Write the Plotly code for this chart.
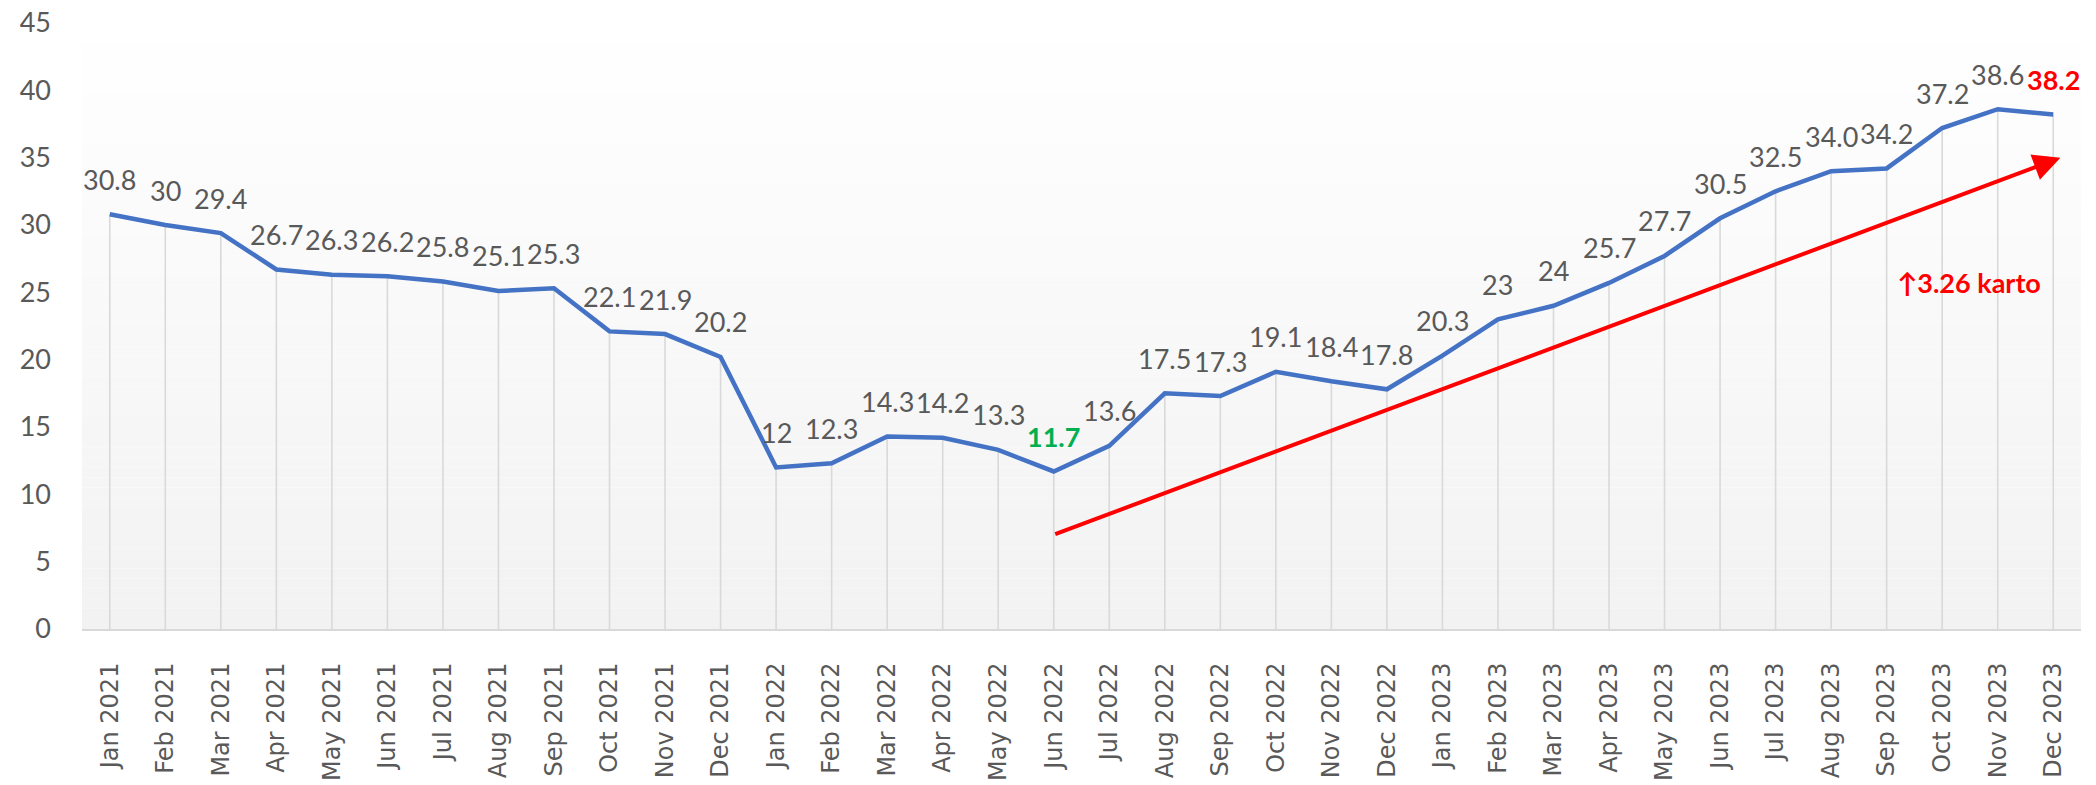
import plotly.graph_objects as go

months = ["Jan 2021", "Feb 2021", "Mar 2021", "Apr 2021", "May 2021", "Jun 2021",
          "Jul 2021", "Aug 2021", "Sep 2021", "Oct 2021", "Nov 2021", "Dec 2021",
          "Jan 2022", "Feb 2022", "Mar 2022", "Apr 2022", "May 2022", "Jun 2022",
          "Jul 2022", "Aug 2022", "Sep 2022", "Oct 2022", "Nov 2022", "Dec 2022",
          "Jan 2023", "Feb 2023", "Mar 2023", "Apr 2023", "May 2023", "Jun 2023",
          "Jul 2023", "Aug 2023", "Sep 2023", "Oct 2023", "Nov 2023", "Dec 2023"]
values = [30.8, 30.0, 29.4, 26.7, 26.3, 26.2, 25.8, 25.1, 25.3, 22.1, 21.9, 20.2,
          12.0, 12.3, 14.3, 14.2, 13.3, 11.7, 13.6, 17.5, 17.3, 19.1, 18.4, 17.8,
          20.3, 23.0, 24.0, 25.7, 27.7, 30.5, 32.5, 34.0, 34.2, 37.2, 38.6, 38.2]
value_labels = ["30.8", "30", "29.4", "26.7", "26.3", "26.2", "25.8", "25.1", "25.3",
                "22.1", "21.9", "20.2", "12", "12.3", "14.3", "14.2", "13.3", "11.7",
                "13.6", "17.5", "17.3", "19.1", "18.4", "17.8", "20.3", "23", "24",
                "25.7", "27.7", "30.5", "32.5", "34.0", "34.2", "37.2", "38.6", "38.2"]
y_ticks = [0, 5, 10, 15, 20, 25, 30, 35, 40, 45]

# trend arrow (start/end in axis units) and its note
trend_start = (17, 7.0)
trend_end = (35.13, 35.0)
trend_note = "↑3.26 karto"
trend_note_pos = (33.49, 25.7)

highlight = {"Jun 2022": "#00B050", "Dec 2023": "#FF0000"}

LABEL_GRAY = "#595959"
LINE_BLUE = "#4472C4"

fig = go.Figure()

# drop lines from each point down to the axis
fig.add_trace(go.Scatter(
    x=months, y=values, mode="markers",
    marker=dict(size=1, color="rgba(0,0,0,0)"),
    error_y=dict(type="data", symmetric=False, array=[0] * len(values),
                 arrayminus=values, color="#D9D9D9", thickness=1.6, width=0),
    hoverinfo="skip", showlegend=False,
))

fig.add_trace(go.Scatter(
    x=months, y=values, mode="lines",
    line=dict(color=LINE_BLUE, width=4.5),
    showlegend=False,
))

annotations = []
for m, v, t in zip(months, values, value_labels):
    color = highlight.get(m, LABEL_GRAY)
    bold = m in highlight
    annotations.append(dict(
        x=m, y=v, xref="x", yref="y", text=f"<b>{t}</b>" if bold else t,
        showarrow=False, yshift=35,
        font=dict(family="Lato", size=27, color=color),
        xanchor="center", yanchor="middle",
    ))

annotations.append(dict(
    x=trend_end[0], y=trend_end[1], ax=trend_start[0], ay=trend_start[1],
    xref="x", yref="y", axref="x", ayref="y", text="",
    showarrow=True, arrowhead=2, arrowsize=1.35, arrowwidth=4, arrowcolor="#FF0000",
    standoff=0, startstandoff=0,
))
annotations.append(dict(
    x=trend_note_pos[0], y=trend_note_pos[1], xref="x", yref="y",
    text=f"<b>{trend_note}</b>", showarrow=False,
    font=dict(family="Lato", size=27, color="#FF0000"),
    xanchor="center", yanchor="middle",
))

# subtle vertical gradient background (white -> light gray)
shapes = []
n_bands = 60
for i in range(n_bands):
    f = (i + 0.5) / n_bands
    c = round(255 - (255 - 242) * f)
    shapes.append(dict(
        type="rect", xref="paper", yref="paper",
        x0=0, x1=1, y0=1 - (i + 1) / n_bands, y1=1 - i / n_bands,
        fillcolor=f"rgb({c},{c},{c})", line=dict(width=0), layer="below",
    ))

fig.update_layout(
    width=2096, height=785,
    margin=dict(l=82, r=15, t=23, b=156, autoexpand=False),
    paper_bgcolor="white", plot_bgcolor="white",
    annotations=annotations, shapes=shapes,
    showlegend=False,
)
fig.update_xaxes(
    type="category", range=[-0.5, len(months) - 0.5],
    tickangle=-90, tickfont=dict(family="DejaVu Sans", size=24, color=LABEL_GRAY),
    showgrid=False, zeroline=False, automargin=False,
    showline=True, linecolor="#D9D9D9", linewidth=2,
    ticks="", ticklabelstandoff=22,
)
fig.update_yaxes(
    range=[0, 45], tickvals=y_ticks, automargin=False,
    tickfont=dict(family="Lato", size=27, color=LABEL_GRAY),
    showgrid=False, zeroline=False, showline=False,
    ticks="", ticklabelstandoff=30,
)

fig.write_html(
    "out.html",
    config={"displayModeBar": False},
    post_script="document.body.style.margin='0';document.body.style.overflow='hidden';",
)
